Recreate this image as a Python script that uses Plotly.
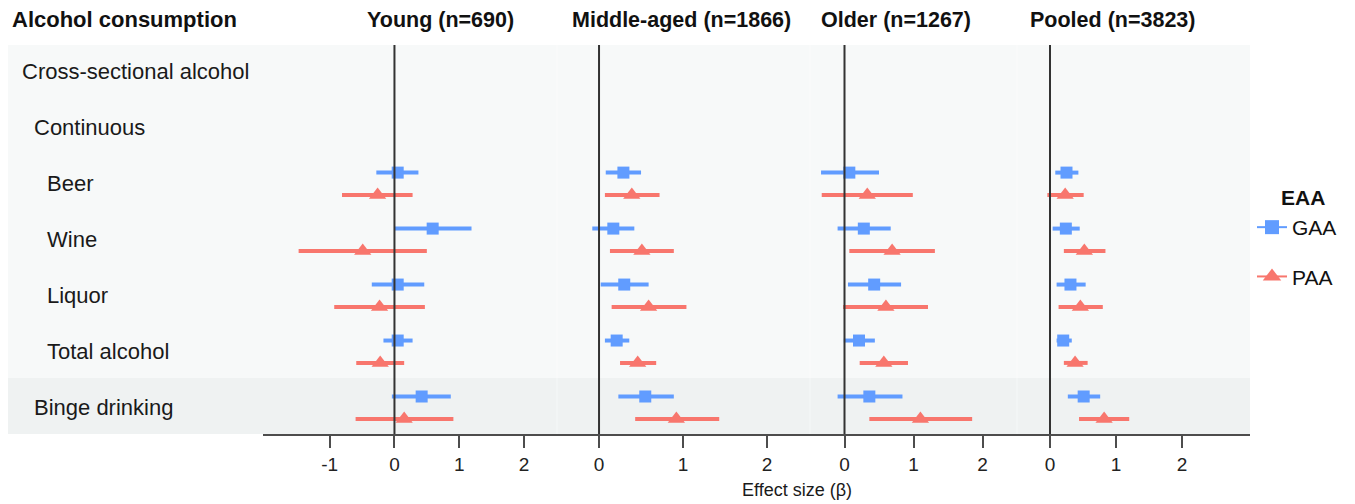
import plotly.graph_objects as go

# ---------------- data ----------------
row_labels = ["Cross-sectional alcohol", "Continuous", "Beer", "Wine", "Liquor",
              "Total alcohol", "Binge drinking"]
row_indent = [0, 1, 2, 2, 2, 2, 1]
exposures = ["Beer", "Wine", "Liquor", "Total alcohol", "Binge drinking"]

panels = ["Young (n=690)", "Middle-aged (n=1866)", "Older (n=1267)", "Pooled (n=3823)"]

# GAA estimates / lower / upper  (per panel, per exposure)
gaa_est = [
    [0.05, 0.59, 0.05, 0.05, 0.42],
    [0.29, 0.17, 0.30, 0.21, 0.55],
    [0.07, 0.28, 0.43, 0.21, 0.36],
    [0.25, 0.24, 0.31, 0.20, 0.51],
]
gaa_lo = [
    [-0.28, 0.00, -0.35, -0.17, -0.04],
    [0.08, -0.08, 0.02, 0.07, 0.23],
    [-0.34, -0.10, 0.05, -0.01, -0.10],
    [0.08, 0.04, 0.10, 0.10, 0.27],
]
gaa_hi = [
    [0.37, 1.19, 0.46, 0.28, 0.87],
    [0.50, 0.42, 0.59, 0.36, 0.89],
    [0.50, 0.67, 0.82, 0.44, 0.84],
    [0.43, 0.45, 0.54, 0.33, 0.76],
]
# PAA
paa_est = [
    [-0.26, -0.49, -0.23, -0.22, 0.15],
    [0.39, 0.51, 0.59, 0.46, 0.92],
    [0.33, 0.69, 0.60, 0.57, 1.10],
    [0.23, 0.52, 0.46, 0.38, 0.82],
]
paa_lo = [
    [-0.81, -1.48, -0.93, -0.59, -0.60],
    [0.07, 0.13, 0.15, 0.25, 0.43],
    [-0.33, 0.07, -0.02, 0.22, 0.36],
    [-0.04, 0.21, 0.13, 0.21, 0.44],
]
paa_hi = [
    [0.28, 0.50, 0.47, 0.15, 0.91],
    [0.72, 0.89, 1.04, 0.68, 1.43],
    [0.99, 1.31, 1.21, 0.92, 1.85],
    [0.51, 0.84, 0.80, 0.57, 1.20],
]
x_ranges = [[-2.03, 2.51], [-0.50, 2.51], [-0.50, 2.50], [-0.50, 3.03]]
tick_vals = [[-1, 0, 1, 2], [0, 1, 2], [0, 1, 2], [0, 1, 2]]
tick_text = [["-1", "0", "1", "2"], ["0", "1", "2"], ["0", "1", "2"], ["0", "1", "2"]]

# ---------------- layout geometry ----------------
OFF = 8  # page body margin
W, H = 1355 - OFF, 504 - OFF
px = lambda v: (v - OFF) / W
py = lambda v: 1 - (v - OFF) / H
panel_px = [(263, 557), (557, 810), (810, 1017), (1017, 1250)]
y_top, y_bot = 45, 434
title_cx = [440, 682, 896, 1112]

BLUE = "#619CFF"
RED = "#F8766D"
FONT = "Liberation Sans, Arial, Helvetica, sans-serif"
DODGE = 0.2

fig = go.Figure()
exp_rows = [row_labels.index(e) for e in exposures]

for i in range(4):
    xa = "x" if i == 0 else f"x{i+1}"
    for name, est, lo, hi, col, sym, size, off in [
        ("GAA", gaa_est[i], gaa_lo[i], gaa_hi[i], BLUE, "square", 12, -DODGE),
        ("PAA", paa_est[i], paa_lo[i], paa_hi[i], RED, "triangle-up", 15, DODGE),
    ]:
        fig.add_trace(go.Scatter(
            x=est, y=[r + off for r in exp_rows], mode="markers",
            marker=dict(symbol=sym, size=size, color=col, line=dict(width=0)),
            error_x=dict(type="data", symmetric=False,
                         array=[h - e for h, e in zip(hi, est)],
                         arrayminus=[e - l for e, l in zip(est, lo)],
                         color=col, thickness=4, width=0),
            xaxis=xa, yaxis="y", showlegend=False, hoverinfo="skip"))

# legend-only traces
for name, col, sym, size, grp in [("GAA", BLUE, "square", 14, "g"), ("PAA", RED, "triangle-up", 20, "p")]:
    fig.add_trace(go.Scatter(x=[None], y=[None], mode="lines+markers", name=name,
                             legendgroup=grp,
                             line=dict(color=col, width=2),
                             marker=dict(symbol=sym, size=size, color=col),
                             xaxis="x", yaxis="y"))

axis_common = dict(showgrid=False, zeroline=False, showline=True, linecolor="#4d4d4d",
                   linewidth=2, ticks="outside", ticklen=12, tickwidth=1.5, tickcolor="#4d4d4d",
                   tickfont=dict(family=FONT, size=19, color="#222"), fixedrange=True)
for i in range(4):
    key = "xaxis" if i == 0 else f"xaxis{i+1}"
    a, b = panel_px[i]
    fig.update_layout({key: dict(domain=[px(a), px(b)], range=x_ranges[i],
                                 tickvals=tick_vals[i], ticktext=tick_text[i],
                                 anchor="y", **axis_common)})

fig.update_layout(
    yaxis=dict(domain=[py(y_bot), py(y_top)], range=[6.47, -0.48], visible=False, fixedrange=True),
)

shapes = []
# backgrounds
shapes.append(dict(type="rect", xref="paper", yref="paper", x0=px(7), x1=px(1250),
                   y0=py(378), y1=py(y_top), fillcolor="#F7F9F9", line=dict(width=0), layer="below"))
shapes.append(dict(type="rect", xref="paper", yref="paper", x0=px(7), x1=px(1250),
                   y0=py(y_bot), y1=py(378), fillcolor="#EFF2F2", line=dict(width=0), layer="below"))
# faint panel separators
for a, b in panel_px[1:]:
    shapes.append(dict(type="line", xref="paper", yref="paper", x0=px(a), x1=px(a),
                       y0=py(y_bot), y1=py(y_top), line=dict(color="rgba(255,255,255,0.45)", width=1),
                       layer="below"))
# zero reference lines
for i in range(4):
    xa = "x" if i == 0 else f"x{i+1}"
    shapes.append(dict(type="line", xref=xa, yref="paper", x0=0, x1=0,
                       y0=py(y_bot), y1=py(y_top), line=dict(color="#333333", width=2), layer="above"))
fig.update_layout(shapes=shapes)

ann = []
ann.append(dict(text="<b>Alcohol consumption</b>", x=px(10), y=py(20), xref="paper", yref="paper",
                xanchor="left", yanchor="middle", showarrow=False,
                font=dict(family=FONT, size=22, color="#111")))
for t, cx in zip(panels, title_cx):
    ann.append(dict(text=f"<b>{t}</b>", x=px(cx), y=py(20), xref="paper", yref="paper",
                    xanchor="center", yanchor="middle", showarrow=False,
                    font=dict(family=FONT, size=21.5, color="#111")))
indent_px = [20, 32, 45]
for r, (lab, ind) in enumerate(zip(row_labels, row_indent)):
    ann.append(dict(text=lab, x=px(indent_px[ind]), y=r, xref="paper", yref="y",
                    xanchor="left", yanchor="middle", showarrow=False,
                    font=dict(family=FONT, size=22, color="#1a1a1a")))
ann.append(dict(text="Effect size (β)", x=px(797), y=py(490), xref="paper", yref="paper",
                xanchor="center", yanchor="middle", showarrow=False,
                font=dict(family=FONT, size=18, color="#1a1a1a")))
ann.append(dict(text="<b>EAA</b>", x=px(1303), y=py(197), xref="paper", yref="paper",
                xanchor="center", yanchor="middle", showarrow=False,
                font=dict(family=FONT, size=21, color="#111")))
fig.update_layout(annotations=ann)

fig.update_layout(
    width=W, height=H, margin=dict(l=0, r=0, t=0, b=0),
    paper_bgcolor="white", plot_bgcolor="rgba(0,0,0,0)",
    showlegend=True,
    legend=dict(x=px(1252), y=py(207), xanchor="left", yanchor="top",
                bgcolor="rgba(0,0,0,0)", tracegroupgap=19,
                font=dict(family=FONT, size=21, color="#111"),
                itemwidth=30),
)

fig.write_html("out.html")
